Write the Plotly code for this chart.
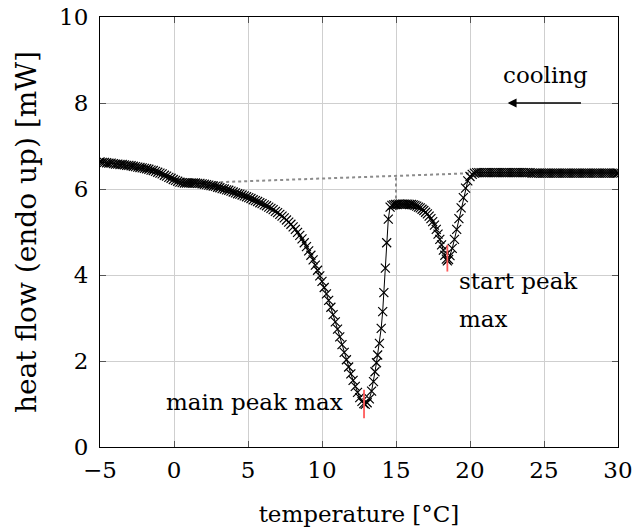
import plotly.graph_objects as go

# ---- data ----
temperature = [
    -5.0, -4.85, -4.7, -4.55, -4.4, -4.25, -4.1, -3.95, -3.8, -3.65, -3.5, -3.35,
    -3.2, -3.05, -2.9, -2.75, -2.6, -2.45, -2.3, -2.15, -2.0, -1.85, -1.7, -1.55,
    -1.4, -1.25, -1.1, -0.95, -0.8, -0.65, -0.5, -0.35, -0.2, -0.05, 0.1, 0.25,
    0.4, 0.55, 0.7, 0.85, 1.0, 1.15, 1.3, 1.45, 1.6, 1.75, 1.9, 2.05,
    2.2, 2.35, 2.5, 2.65, 2.8, 2.95, 3.1, 3.25, 3.4, 3.55, 3.7, 3.85,
    4.0, 4.15, 4.3, 4.45, 4.6, 4.75, 4.9, 5.05, 5.2, 5.35, 5.5, 5.65,
    5.8, 5.95, 6.1, 6.25, 6.4, 6.55, 6.7, 6.85, 7.0, 7.15, 7.3, 7.45,
    7.6, 7.75, 7.9, 8.05, 8.2, 8.35, 8.5, 8.65, 8.8, 8.95, 9.1, 9.25,
    9.4, 9.55, 9.7, 9.85, 10.0, 10.15, 10.3, 10.45, 10.6, 10.75, 10.9, 11.05,
    11.2, 11.35, 11.5, 11.65, 11.8, 11.95, 12.1, 12.25, 12.4, 12.55, 12.7, 12.82,
    12.92,
    13.05, 13.2, 13.35, 13.48, 13.58, 13.68, 13.76, 13.88, 14.0, 14.1, 14.18,
    14.28, 14.37, 14.48, 14.6,
    14.72, 14.84, 14.96, 15.08, 15.2, 15.32, 15.44, 15.56, 15.68, 15.8, 15.92,
    16.04, 16.16, 16.28, 16.4, 16.52, 16.64, 16.76, 16.88, 17.0, 17.12, 17.24,
    17.36, 17.48, 17.6, 17.72, 17.84, 17.96, 18.08, 18.2, 18.3, 18.4, 18.47,
    18.55, 18.65, 18.8, 18.95, 19.1, 19.25, 19.4, 19.55, 19.7, 19.85, 20.0,
    20.15, 20.3, 20.45,
    20.6, 20.75, 20.9, 21.05, 21.2, 21.35, 21.5, 21.65, 21.8, 21.95, 22.1, 22.25,
    22.4, 22.55, 22.7, 22.85, 23.0, 23.15, 23.3, 23.45, 23.6, 23.75, 23.9, 24.05,
    24.2, 24.35, 24.5, 24.65, 24.8, 24.95, 25.1, 25.25, 25.4, 25.55, 25.7, 25.85,
    26.0, 26.15, 26.3, 26.45, 26.6, 26.75, 26.9, 27.05, 27.2, 27.35, 27.5, 27.65,
    27.8, 27.95, 28.1, 28.25, 28.4, 28.55, 28.7, 28.85, 29.0, 29.15, 29.3, 29.45,
    29.6, 29.75, 29.9, 30.0,
]
heat_flow = [
    6.63, 6.62, 6.62, 6.61, 6.60, 6.60, 6.59, 6.58, 6.58, 6.57, 6.57, 6.56,
    6.55, 6.55, 6.54, 6.53, 6.52, 6.51, 6.50, 6.49, 6.48, 6.47, 6.46, 6.44,
    6.43, 6.41, 6.39, 6.37, 6.35, 6.32, 6.30, 6.27, 6.25, 6.22, 6.20, 6.18,
    6.16, 6.15, 6.14, 6.14, 6.14, 6.14, 6.14, 6.14, 6.13, 6.13, 6.12, 6.11,
    6.10, 6.09, 6.08, 6.07, 6.06, 6.04, 6.03, 6.01, 6.00, 5.98, 5.97, 5.95,
    5.93, 5.91, 5.89, 5.88, 5.86, 5.84, 5.82, 5.80, 5.78, 5.75, 5.73, 5.71,
    5.68, 5.66, 5.63, 5.61, 5.58, 5.55, 5.52, 5.48, 5.45, 5.41, 5.37, 5.33,
    5.28, 5.23, 5.18, 5.12, 5.06, 4.99, 4.92, 4.84, 4.75, 4.66, 4.56, 4.46,
    4.35, 4.23, 4.11, 3.98, 3.85, 3.71, 3.56, 3.41, 3.25, 3.08, 2.91, 2.74,
    2.56, 2.38, 2.20, 2.03, 1.86, 1.70, 1.55, 1.41, 1.27, 1.15, 1.06, 1.01,
    0.99,
    1.03, 1.12, 1.30, 1.52, 1.75, 1.96, 2.14, 2.41, 2.76, 3.15, 3.59,
    4.16, 4.75, 5.30, 5.58,
    5.62, 5.63, 5.64, 5.64, 5.65, 5.65, 5.65, 5.65, 5.65, 5.65, 5.64,
    5.64, 5.63, 5.62, 5.60, 5.58, 5.56, 5.53, 5.50, 5.46, 5.42, 5.37,
    5.31, 5.24, 5.16, 5.06, 4.95, 4.83, 4.70, 4.58, 4.46, 4.37, 4.33,
    4.36, 4.45, 4.62, 4.83, 5.06, 5.31, 5.56, 5.80, 6.02, 6.19, 6.29,
    6.34, 6.37, 6.38,
    6.38, 6.38, 6.38, 6.38, 6.38, 6.38, 6.38, 6.38, 6.38, 6.38, 6.38, 6.38,
    6.38, 6.38, 6.38, 6.38, 6.38, 6.38, 6.38, 6.38, 6.38, 6.38, 6.38, 6.38,
    6.37, 6.37, 6.37, 6.37, 6.37, 6.37, 6.37, 6.37, 6.37, 6.37, 6.37, 6.37,
    6.37, 6.37, 6.37, 6.37, 6.37, 6.37, 6.37, 6.37, 6.37, 6.37, 6.37, 6.37,
    6.37, 6.37, 6.37, 6.37, 6.37, 6.37, 6.37, 6.37, 6.37, 6.37, 6.37, 6.37,
    6.37, 6.37, 6.37, 6.37,
]

baseline_t = [1.5, 20.3]
baseline_hf = [6.14, 6.37]
onset_t = [15.0, 15.0]
onset_hf = [5.64, 6.31]

main_peak_t = 12.84
main_peak_span = [0.67, 1.33]
start_peak_t = 18.47
start_peak_span = [4.08, 4.70]

FONT = "DejaVu Serif"
FS = 23

fig = go.Figure()

fig.add_trace(go.Scatter(
    x=baseline_t, y=baseline_hf, mode="lines",
    line=dict(color="#8c8c8c", width=2, dash="dot"), showlegend=False,
))
fig.add_trace(go.Scatter(
    x=onset_t, y=onset_hf, mode="lines",
    line=dict(color="#8c8c8c", width=2, dash="dot"), showlegend=False,
))
fig.add_trace(go.Scatter(
    x=temperature, y=heat_flow, mode="lines+markers",
    line=dict(color="black", width=1),
    marker=dict(symbol="x-thin", size=9, line=dict(color="black", width=1.2)),
    showlegend=False,
))
fig.add_trace(go.Scatter(
    x=[main_peak_t, main_peak_t], y=main_peak_span, mode="lines",
    line=dict(color="#ff5a5a", width=1.8), showlegend=False,
))
fig.add_trace(go.Scatter(
    x=[start_peak_t, start_peak_t], y=start_peak_span, mode="lines",
    line=dict(color="#ff5a5a", width=1.8), showlegend=False,
))

tf = dict(family=FONT, size=FS, color="black")
fig.add_annotation(x=11.55, y=1.05, text="main peak max", showarrow=False,
                   xanchor="right", yanchor="middle", font=tf)
fig.add_annotation(x=19.1, y=3.85, text="start peak", showarrow=False,
                   xanchor="left", yanchor="middle", font=tf)
fig.add_annotation(x=19.1, y=2.98, text="max", showarrow=False,
                   xanchor="left", yanchor="middle", font=tf)
fig.add_annotation(x=25.1, y=8.65, text="cooling", showarrow=False,
                   xanchor="center", yanchor="middle", font=tf)
fig.add_annotation(x=22.55, y=8.0, ax=27.6, ay=8.0, axref="x", ayref="y",
                   text="", showarrow=True, arrowhead=2, arrowsize=1.1,
                   arrowwidth=1.6, arrowcolor="black")

axis_common = dict(
    showline=True, linecolor="black", linewidth=1.2, mirror="ticks",
    ticks="inside", ticklen=6, tickcolor="#555555", tickwidth=1,
    showgrid=True, gridcolor="#cfcfcf", gridwidth=1, zeroline=False,
    tickfont=dict(family=FONT, size=FS, color="black"),
    automargin=False,
)
fig.update_xaxes(range=[-5, 30], dtick=5, tick0=-5, ticklabelstandoff=2,
                 title=dict(text="temperature [°C]", font=dict(family=FONT, size=FS, color="black"), standoff=24),
                 **axis_common)
fig.update_yaxes(range=[0, 10], dtick=2, tick0=0, ticklabelstandoff=6,
                 title=dict(text="heat flow (endo up) [mW]", font=dict(family=FONT, size=28, color="black"), standoff=14),
                 **axis_common)

fig.update_layout(
    width=634, height=531,
    margin=dict(l=100, r=16, t=17, b=84),
    paper_bgcolor="white", plot_bgcolor="white",
    font=dict(family=FONT, color="black"),
)

fig.write_html("out.html")
